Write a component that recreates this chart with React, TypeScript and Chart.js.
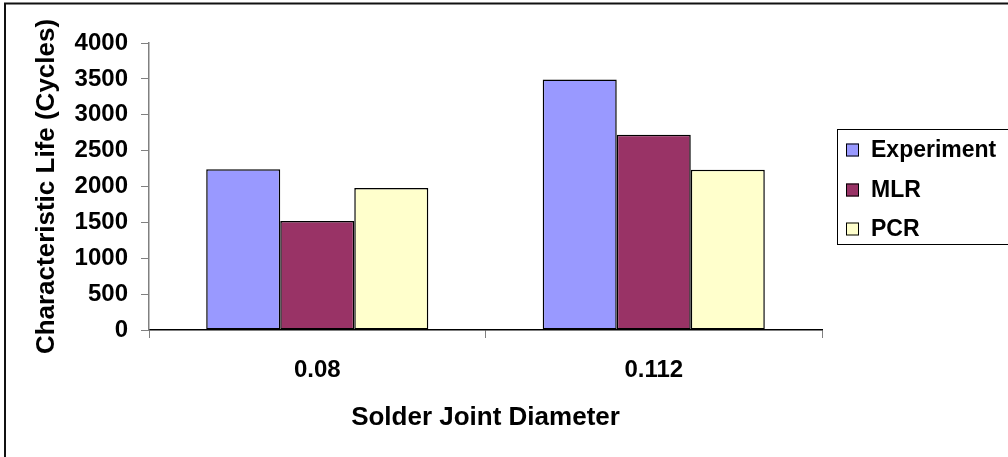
import React, { useEffect, useRef } from "react";
import { Chart, registerables } from "chart.js";

Chart.register(...registerables);

const categories = ["0.08", "0.112"];
const seriesNames = ["Experiment", "MLR", "PCR"];
const experiment = [2240, 3490];
const mlr = [1520, 2720];
const pcr = [1980, 2235];
const seriesColors = ["#9999FF", "#993366", "#FFFFCC"];
const yTicks = [0, 500, 1000, 1500, 2000, 2500, 3000, 3500, 4000];

const FONT = "'Liberation Sans', Arial, Helvetica, sans-serif";

// Frame around the whole chart plus a boxed legend on the right.
const decorPlugin = {
  id: "decor",
  afterDraw(chart: any) {
    const ctx = chart.ctx;
    ctx.save();
    ctx.strokeStyle = "#111";
    ctx.lineWidth = 2;
    ctx.strokeRect(5, 3.5, 1100, 1100);

    ctx.lineWidth = 1;
    ctx.strokeStyle = "#000";
    ctx.strokeRect(837.5, 129.5, 300, 115);

    const rowY = [150, 190, 229];
    chart.data.datasets.forEach((ds: any, i: number) => {
      const y = rowY[i];
      ctx.fillStyle = ds.backgroundColor;
      ctx.fillRect(846, y - 6.5, 13, 13);
      ctx.strokeStyle = "#000";
      ctx.lineWidth = 1;
      ctx.strokeRect(846.5, y - 6, 12, 12);
      ctx.fillStyle = "#000";
      ctx.font = `bold 23px ${FONT}`;
      ctx.textBaseline = "middle";
      ctx.textAlign = "left";
      ctx.fillText(ds.label, 871, y + 1);
    });
    ctx.restore();
  },
};

export default function App() {
  const ref = useRef<HTMLCanvasElement>(null);

  useEffect(() => {
    document.body.style.margin = "0";
    const seriesValues = [experiment, mlr, pcr];
    const chart = new Chart(ref.current!, {
      type: "bar",
      data: {
        labels: categories,
        datasets: seriesNames.map((name, i) => ({
          label: name,
          data: seriesValues[i],
          backgroundColor: seriesColors[i],
          borderColor: "#000",
          borderWidth: 1.5,
          borderSkipped: false,
          categoryPercentage: 0.66,
          barPercentage: 1.0,
        })),
      },
      options: {
        responsive: false,
        animation: false,
        devicePixelRatio: 1,
        layout: { padding: { top: 43, right: 186, left: 0, bottom: 0 } },
        plugins: {
          legend: { display: false },
          tooltip: { enabled: false },
        },
        scales: {
          x: {
            grid: {
              drawOnChartArea: false,
              drawTicks: true,
              tickLength: 8,
              color: "#808080",
              offset: true,
            },
            border: { display: true, color: "#000", width: 1.5 },
            ticks: {
              color: "#000",
              font: { family: FONT, size: 24, weight: "bold" },
              padding: 18,
            },
            title: {
              display: true,
              text: "Solder Joint Diameter",
              color: "#000",
              font: { family: FONT, size: 26, weight: "bold" },
              padding: { top: 0, bottom: 24 },
            },
            afterFit(scale: any) {
              scale.height = 127;
            },
          },
          y: {
            min: 0,
            max: 4000,
            afterBuildTicks(scale: any) {
              scale.ticks = yTicks.map((v) => ({ value: v }));
            },
            grid: {
              drawOnChartArea: false,
              drawTicks: true,
              tickLength: 8,
              color: "#808080",
            },
            border: { display: true, color: "#808080", width: 1.5 },
            ticks: {
              color: "#000",
              font: { family: FONT, size: 24, weight: "bold" },
              padding: 13,
              callback: (v: any) => String(v),
            },
            title: {
              display: true,
              text: "Characteristic Life (Cycles)",
              color: "#000",
              font: { family: FONT, size: 26, weight: "bold" },
              padding: { top: 31, bottom: 0 },
            },
            afterFit(scale: any) {
              scale.width = 149;
            },
          },
        },
      },
      plugins: [decorPlugin],
    });
    return () => chart.destroy();
  }, []);

  return (
    <canvas
      ref={ref}
      width={1008}
      height={457}
      style={{ position: "fixed", left: 0, top: 0, width: 1008, height: 457, background: "#fff" }}
    />
  );
}
